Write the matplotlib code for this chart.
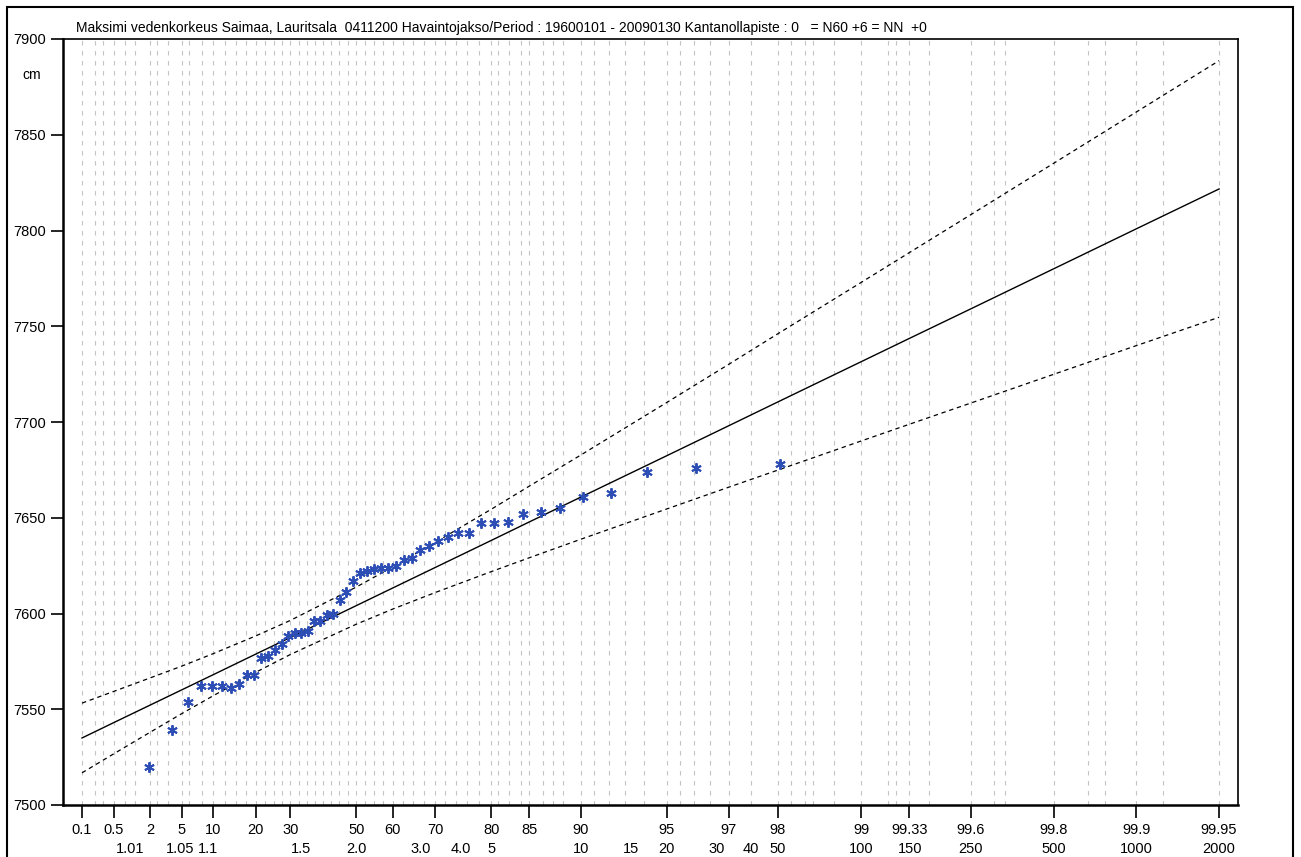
"""Gumbel probability plot of annual maximum water levels, Saimaa / Lauritsala."""
import numpy as np
import matplotlib
matplotlib.use("Agg")
import matplotlib.pyplot as plt
from matplotlib.patches import Rectangle

plt.rcParams['font.family'] = ['Liberation Sans', 'DejaVu Sans']

TITLE = ("Maksimi vedenkorkeus Saimaa, Lauritsala  0411200 Havaintojakso/Period : "
         "19600101 - 20090130 Kantanollapiste : 0   = N60 +6 = NN  +0")

# observed annual maxima (cm), sorted ascending
water_level = [7520, 7539, 7554, 7562, 7562, 7562, 7561, 7563, 7568, 7568,
               7577, 7578, 7581, 7584, 7588, 7590, 7590, 7591, 7596, 7596,
               7599, 7600, 7607, 7611, 7617, 7621, 7622, 7623, 7624, 7624,
               7625, 7628, 7629, 7633, 7635, 7638, 7640, 7642, 7642, 7647,
               7647, 7648, 7652, 7653, 7655, 7661, 7663, 7674, 7676, 7678]

# probability axis (non-exceedance %)
prob_ticks = [0.1, 0.5, 2, 5, 10, 20, 30, 50, 60, 70, 80, 85, 90, 95, 97, 98,
              99, 99.33, 99.6, 99.8, 99.9, 99.95]
prob_labels = ["0.1", "0.5", "2", "5", "10", "20", "30", "50", "60", "70", "80",
               "85", "90", "95", "97", "98", "99", "99.33", "99.6", "99.8",
               "99.9", "99.95"]

# return periods (years) shown on the second label row
return_periods = [1.01, 1.05, 1.1, 1.5, 2.0, 3.0, 4.0, 5, 10, 15, 20, 30, 40, 50,
                  100, 150, 250, 500, 1000, 2000]
return_labels = ["1.01", "1.05", "1.1", "1.5", "2.0", "3.0", "4.0", "5", "10", "15",
                 "20", "30", "40", "50", "100", "150", "250", "500", "1000", "2000"]

# fitted line and confidence limits read at the probability ticks
fit_center = [7535.0, 7543.0, 7552.1, 7560.1, 7568.0, 7578.8, 7587.5, 7604.1,
              7613.3, 7624.1, 7638.2, 7647.8, 7660.8, 7682.4, 7698.1, 7710.5,
              7731.5, 7743.6, 7759.1, 7780.0, 7800.9, 7821.7]
fit_upper = [7553.2, 7559.3, 7566.3, 7572.5, 7579.0, 7588.3, 7596.4, 7613.8,
             7624.3, 7637.2, 7654.5, 7666.5, 7682.8, 7710.2, 7730.2, 7746.1,
             7772.9, 7788.4, 7808.3, 7835.1, 7861.9, 7888.7]
fit_lower = [7516.8, 7526.7, 7537.9, 7547.7, 7557.0, 7569.3, 7578.6, 7594.4,
             7602.3, 7611.0, 7621.9, 7629.1, 7638.8, 7654.6, 7666.0, 7674.9,
             7690.1, 7698.8, 7709.9, 7724.9, 7739.9, 7754.7]

# vertical grid positions (%)
grid_probs = [0.1, 0.2, 0.3, 0.5, 0.8, 1.2, 2, 2.5, 3.5, 5, 6, 8, 10, 12.5, 15,
              17.5, 20, 22.5, 25, 27.5, 30, 32.5, 35, 37.5, 40, 42.5, 45, 47.5,
              50, 52.5, 55, 57.5, 60, 62.5, 65, 67.5, 70, 72, 74, 76, 78, 80, 81,
              82.5, 84, 85, 86.5, 87.5, 88.5, 90, 91, 92, 93, 94, 95, 95.5, 96,
              96.5, 97, 97.5, 98, 98.2, 98.4, 98.5, 98.75, 99, 99.2, 99.25, 99.33,
              99.43, 99.6, 99.67, 99.7, 99.8, 99.85, 99.87, 99.9, 99.92, 99.95]


def gumbel_fwd(p):
    p = np.clip(np.asarray(p, dtype=float) / 100.0, 1e-9, 1 - 1e-9)
    return -np.log(-np.log(p))


def gumbel_inv(z):
    return 100.0 * np.exp(-np.exp(-np.asarray(z, dtype=float)))


W, H = 1301, 857
fig = plt.figure(figsize=(W / 100, H / 100), dpi=100)
fig.patch.set_facecolor("white")
ax = fig.add_axes([63 / W, 1 - 805 / H, (1238 - 63) / W, (805 - 39) / H])
ax.set_xscale("function", functions=(gumbel_fwd, gumbel_inv))

n = len(water_level)
plot_pos = np.arange(1, n + 1) / (n + 1) * 100

ax.vlines(grid_probs, 7500, 7900, colors="#c4c4c4", linewidth=0.8,
          linestyles=(0, (4, 5)), zorder=1)

ax.plot(prob_ticks, fit_center, color="black", lw=1.0, zorder=3)
ax.plot(prob_ticks, fit_upper, color="black", lw=0.9, ls=(0, (3.5, 3)), zorder=3)
ax.plot(prob_ticks, fit_lower, color="black", lw=0.9, ls=(0, (3.5, 3)), zorder=3)
ax.plot(plot_pos, water_level, ls="none", marker=(6, 2, 0), ms=7.5, mew=1.4,
        color="#2d4fb5", zorder=4)

ax.set_xlim(gumbel_inv(-2.092), gumbel_inv(7.759))
ax.set_ylim(7500, 7900)
ax.set_yticks(np.arange(7500, 7901, 50))
ax.set_xticks(prob_ticks)
ax.set_xticklabels(prob_labels)
ax.xaxis.set_minor_locator(matplotlib.ticker.NullLocator())
ax.tick_params(axis="both", direction="out", length=9, width=1.2, labelsize=10.5,
               colors="black")
ax.tick_params(axis="x", pad=4)

for side in ("left", "bottom"):
    ax.spines[side].set_linewidth(1.8)
for side in ("top", "right"):
    ax.spines[side].set_linewidth(1.2)

for t, lab in zip(return_periods, return_labels):
    ax.text(100 * (1 - 1 / t), -0.058, lab, transform=ax.get_xaxis_transform(),
            ha="center", va="center", fontsize=10.5)

fig.text(32 / W, 1 - 75 / H, "cm", ha="center", va="center", fontsize=10)
fig.text(76 / W, 1 - 28 / H, TITLE, ha="left", va="center", fontsize=10)

frame = Rectangle((7 / W, -0.1), (1293 - 7) / W, 1.1 - 7 / H,
                  transform=fig.transFigure, fill=False, lw=1.5,
                  edgecolor="black", clip_on=False)
fig.patches.append(frame)

fig.savefig("out.png", dpi=100)
